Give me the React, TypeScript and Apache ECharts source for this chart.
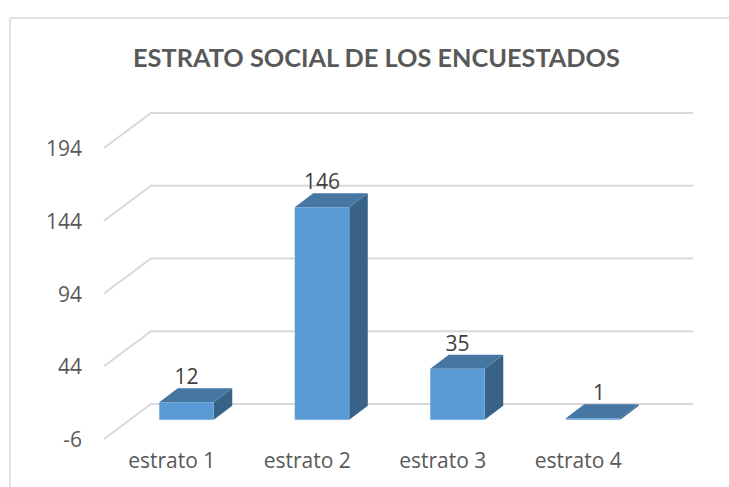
import React, { useEffect, useRef } from "react";
import * as echarts from "echarts";

const titleText = "ESTRATO SOCIAL DE LOS ENCUESTADOS";
const categories = ["estrato 1", "estrato 2", "estrato 3", "estrato 4"];
const values = [12, 146, 35, 1];
const yTicks = [-6, 44, 94, 144, 194];

const TITLE_FONT = "Lato, 'Open Sans', sans-serif";
const FONT = "'Open Sans', Lato, sans-serif";
const DEPTH_X = 47;
const DEPTH_Y = 35;
const BAR_OFFSET_X = 14.75;
const BAR_OFFSET_Y = 10.5;
const BAR_W = 54.5;
const BAR_DX = 18.5;
const BAR_DY = 14;

export default function App() {
  const ref = useRef<HTMLDivElement>(null);
  useEffect(() => {
    const chart = echarts.init(ref.current!, null, { renderer: "svg" });
    chart.setOption({
      animation: false,
      backgroundColor: "#ffffff",
      title: {
        text: titleText,
        left: 371.5,
        top: 39,
        textAlign: "center",
        textStyle: { fontFamily: TITLE_FONT, fontSize: 25.3, fontWeight: "bold", color: "#595959" },
      },
      graphic: [
        { type: "line", shape: { x1: 10, y1: 18, x2: 729, y2: 18 }, style: { stroke: "#d9d9d9", lineWidth: 1.5 } },
        { type: "line", shape: { x1: 10, y1: 18, x2: 10, y2: 487 }, style: { stroke: "#d9d9d9", lineWidth: 1.5 } },
      ],
      grid: { left: 104, right: 83, top: 148, bottom: 48 },
      xAxis: {
        type: "category",
        data: categories,
        axisLine: { show: false },
        axisTick: { show: false },
        axisLabel: { fontFamily: FONT, fontSize: 21, color: "#595959", margin: 10 },
      },
      yAxis: {
        type: "value",
        min: -6,
        max: 194,
        axisLine: { show: false },
        axisTick: { show: false },
        splitLine: { show: false },
        axisLabel: { customValues: yTicks, fontFamily: FONT, fontSize: 21, color: "#595959", margin: 22 },
      },
      series: [
        {
          type: "custom",
          silent: true,
          clip: false,
          z: 1,
          encode: { x: 0, y: 1 },
          data: yTicks.map((t) => [0, t]),
          renderItem: (params: any, api: any) => {
            const cs = params.coordSys;
            const y = api.coord([0, api.value(1)])[1];
            return {
              type: "polyline",
              shape: {
                points: [
                  [cs.x, y],
                  [cs.x + DEPTH_X, y - DEPTH_Y],
                  [cs.x + cs.width + DEPTH_X, y - DEPTH_Y],
                ],
              },
              style: { stroke: "#d9d9d9", lineWidth: 2, fill: "none" },
            };
          },
        },
        {
          type: "custom",
          silent: true,
          clip: false,
          z: 2,
          encode: { x: 0, y: 1 },
          data: values.map((v, i) => [i, v]),
          renderItem: (_params: any, api: any) => {
            const idx = api.value(0);
            const val = api.value(1);
            const base = api.coord([idx, 0]);
            const top = api.coord([idx, val]);
            const cx = base[0] + BAR_OFFSET_X;
            const x0 = cx - BAR_W / 2;
            const x1 = cx + BAR_W / 2;
            const yb = base[1] - BAR_OFFSET_Y;
            const yt = top[1] - BAR_OFFSET_Y;
            // the smallest bar's label sits towards the rear of its flat top
            const labelX = cx + (val < 5 ? 6 : 0);
            return {
              type: "group",
              children: [
                {
                  type: "polygon",
                  shape: { points: [[x1, yb], [x1 + BAR_DX, yb - BAR_DY], [x1 + BAR_DX, yt - BAR_DY], [x1, yt]] },
                  style: { fill: "#386288" },
                },
                {
                  type: "polygon",
                  shape: { points: [[x0, yt], [x1, yt], [x1 + BAR_DX, yt - BAR_DY], [x0 + BAR_DX, yt - BAR_DY]] },
                  style: { fill: "#4676a2" },
                },
                {
                  type: "rect",
                  shape: { x: x0, y: yt, width: BAR_W, height: yb - yt },
                  style: { fill: "#5b9bd5" },
                },
                {
                  type: "text",
                  style: {
                    text: String(val),
                    x: labelX,
                    y: yt - BAR_DY - 12,
                    align: "center",
                    verticalAlign: "middle",
                    fontFamily: FONT,
                    fontSize: 21,
                    fill: "#404040",
                  },
                },
              ],
            };
          },
        },
      ],
    });
    return () => chart.dispose();
  }, []);
  return <div ref={ref} style={{ position: "absolute", left: 0, top: 0, width: 729, height: 487 }} />;
}
